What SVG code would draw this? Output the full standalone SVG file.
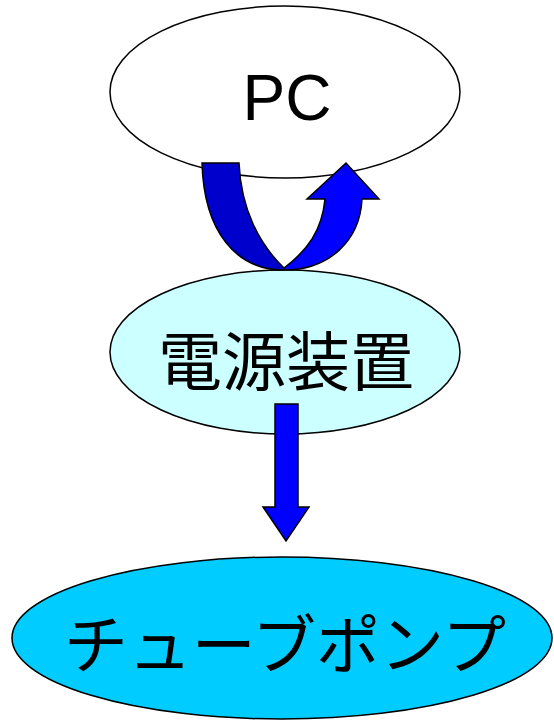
<svg xmlns="http://www.w3.org/2000/svg" width="554" height="723" viewBox="0 0 554 723">
<style>
.node{stroke:#000;stroke-width:1.5}
.lbl{font-family:"Liberation Sans","Noto Sans CJK JP",sans-serif;fill:#000;text-anchor:middle}
.cjk{font-family:"Noto Sans CJK JP",sans-serif}
.arr{stroke:#000;stroke-width:1.5;stroke-linejoin:miter}
</style>
<rect width="554" height="723" fill="#fff"/>
<g id="pc">
<ellipse class="node" cx="285" cy="92" rx="175" ry="86" fill="#fff"/>
<text class="lbl" x="287" y="120" font-size="64">PC</text>
</g>
<g id="power">
<ellipse class="node" cx="285" cy="352" rx="175" ry="82" fill="#CCFFFF"/>
<text class="lbl cjk" x="286" y="385" font-size="64">電源装置</text>
</g>
<g id="pump">
<ellipse class="node" cx="282" cy="638" rx="270" ry="81" fill="#00CCFF"/>
<text class="lbl cjk" x="285" y="668" font-size="64">チューブポンプ</text>
</g>
<g id="connectors">
<path class="arr" fill="#0000CC" d="M202,163 L239,163 C241,210 260,245 284,268 L284,270 C236,270 204,232 202,163 Z"/>
<path class="arr" fill="#0000FF" d="M284,268 C308,250 322,230 325,199 L307,199 L346,163 L379,199 L362,199 C360,240 330,270 284,270 Z"/>
<path class="arr" fill="#0000FF" d="M275,404 L298,404 L298,507 L309,507 L286,541 L263,507 L275,507 Z"/>
</g>
</svg>
